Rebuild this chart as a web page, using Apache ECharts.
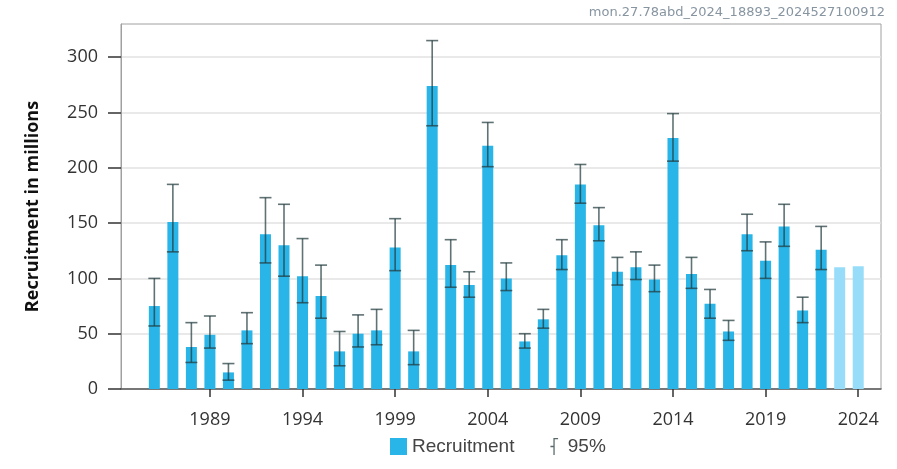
<!DOCTYPE html>
<html>
<head>
<meta charset="utf-8">
<script src="https://cdn.jsdelivr.net/npm/echarts@6/dist/echarts.min.js"></script>
<style>
  html, body { margin: 0; padding: 0; background: #ffffff; }
  #chart { width: 897px; height: 469px; }
</style>
</head>
<body>
<div id="chart"></div>
<script>
// ---- data ----
const years = [1986, 1987, 1988, 1989, 1990, 1991, 1992, 1993, 1994, 1995,
               1996, 1997, 1998, 1999, 2000, 2001, 2002, 2003, 2004, 2005,
               2006, 2007, 2008, 2009, 2010, 2011, 2012, 2013, 2014, 2015,
               2016, 2017, 2018, 2019, 2020, 2021, 2022, 2023, 2024];
const recruitment = [75, 151, 38, 49, 15, 53, 140, 130, 102, 84,
                     34, 50, 53, 128, 34, 274, 112, 94, 220, 100,
                     43, 63, 121, 185, 148, 106, 110, 99, 227, 104,
                     77, 52, 140, 116, 147, 71, 126, 110, 111];
const ciLow  = [57, 124, 24, 37, 8, 41, 114, 102, 78, 64,
                21, 38, 40, 107, 22, 238, 92, 83, 201, 89,
                37, 55, 108, 168, 134, 94, 99, 88, 206, 91,
                64, 44, 125, 100, 129, 60, 108, null, null];
const ciHigh = [100, 185, 60, 66, 23, 69, 173, 167, 136, 112,
                52, 67, 72, 154, 53, 315, 135, 106, 241, 114,
                50, 72, 135, 203, 164, 119, 124, 112, 249, 119,
                90, 62, 158, 133, 167, 83, 147, null, null];
const assumedYears = [2023, 2024];
const xTickLabels = [1989, 1994, 1999, 2004, 2009, 2014, 2019, 2024];
const yTickLabels = [0, 50, 100, 150, 200, 250, 300];
const seriesNames = ['Recruitment', '95%'];
const yAxisTitle = 'Recruitment in millions';
const stampText = 'mon.27.78abd_2024_18893_2024527100912';

// ---- build ----
const barColor = '#29b5e8';
const lightColor = '#97ddf9';
const errColor = 'rgba(35,60,62,0.72)';

const barData = years.map((y, i) => ({
  value: [y, recruitment[i]],
  itemStyle: { color: assumedYears.includes(y) ? lightColor : barColor }
}));
const errData = [];
years.forEach((y, i) => {
  if (ciLow[i] != null && ciHigh[i] != null) errData.push([y, ciLow[i], ciHigh[i]]);
});

const chart = echarts.init(document.getElementById('chart'), null, { renderer: 'canvas' });
chart.setOption({
  animation: false,
  backgroundColor: '#ffffff',
  title: {
    text: stampText,
    right: 10, top: 4, padding: 2,
    textStyle: { fontSize: 13, color: '#8795a1', fontWeight: 'normal', fontFamily: 'DejaVu Sans' }
  },
  grid: {
    left: 121, right: 16, top: 24, bottom: 80,
    show: true, borderColor: '#a0a0a0', borderWidth: 1, backgroundColor: 'transparent'
  },
  legend: {
    left: 390, top: 437, padding: 0,
    itemWidth: 17, itemHeight: 17, itemGap: 36,
    textStyle: { fontSize: 19, color: '#444', fontFamily: 'Liberation Sans' },
    data: [
      { name: seriesNames[0], icon: 'rect', itemStyle: { color: barColor } },
      { name: seriesNames[1], icon: 'path://M3.5,0 L9,0 L9,1.5 L5,1.5 L5,20 L3.5,20 L3.5,10.75 L0,10.75 L0,9.25 L3.5,9.25 Z',
        itemStyle: { color: '#5a6a6a' } }
    ]
  },
  xAxis: {
    type: 'value',
    min: 1984.2, max: 2025.23,
    splitLine: { show: false },
    axisLine: { show: true, onZero: false, lineStyle: { color: '#555', width: 1.5 } },
    axisTick: { show: true, customValues: xTickLabels, length: 8, lineStyle: { color: '#333', width: 1.5 } },
    axisLabel: { customValues: xTickLabels, margin: 22, fontSize: 18, color: '#333', fontFamily: 'Open Sans',
                 formatter: v => String(v) }
  },
  yAxis: {
    type: 'value',
    min: 0, max: 330,
    name: yAxisTitle,
    nameLocation: 'middle',
    nameGap: 79,
    nameTextStyle: { fontSize: 18, fontWeight: 'bold', color: '#111', fontFamily: 'Open Sans' },
    axisLine: { show: true, lineStyle: { color: '#a0a0a0', width: 1 } },
    axisTick: { show: true, customValues: yTickLabels, length: 13, lineStyle: { color: '#333', width: 1.5 } },
    axisLabel: { customValues: yTickLabels, margin: 23, fontSize: 18, color: '#333', fontFamily: 'Open Sans' },
    splitLine: { show: true, lineStyle: { color: '#e2e2e2', width: 1.5 } }
  },
  series: [
    {
      name: seriesNames[0],
      type: 'bar',
      barWidth: 11,
      data: barData,
      itemStyle: { color: barColor },
      z: 2
    },
    {
      name: seriesNames[1],
      type: 'custom',
      itemStyle: { color: '#5a6a6a' },
      data: errData,
      z: 3,
      renderItem: function (params, api) {
        const x = api.value(0);
        const pLo = api.coord([x, api.value(1)]);
        const pHi = api.coord([x, api.value(2)]);
        const hw = 6;
        const st = { stroke: errColor, lineWidth: 1.6, fill: null };
        return {
          type: 'group',
          children: [
            { type: 'line', shape: { x1: pLo[0], y1: pLo[1], x2: pHi[0], y2: pHi[1] }, style: st },
            { type: 'line', shape: { x1: pHi[0] - hw, y1: pHi[1], x2: pHi[0] + hw, y2: pHi[1] }, style: st },
            { type: 'line', shape: { x1: pLo[0] - hw, y1: pLo[1], x2: pLo[0] + hw, y2: pLo[1] }, style: st }
          ]
        };
      }
    }
  ]
});
</script>
</body>
</html>
